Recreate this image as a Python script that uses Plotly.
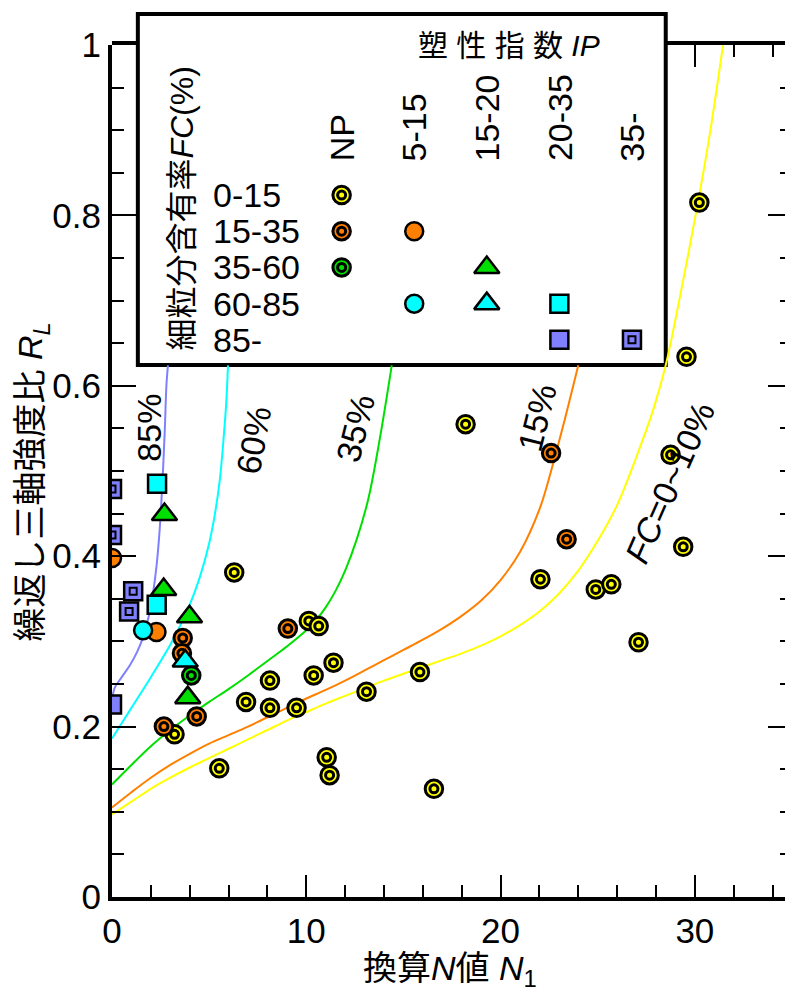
import plotly.graph_objects as go

FONT = "Liberation Sans, Arial, Noto Sans CJK JP, sans-serif"

# ---------------- data ----------------
# FC 0-15 %, NP
fc0_15_np_x = [30.23, 29.57, 18.2, 28.75, 29.4, 22.05, 24.9, 25.7, 27.1, 15.85,
               6.29, 10.13, 10.64, 11.4, 10.38, 8.13, 6.9, 8.13, 9.5, 13.1,
               5.52, 11.05, 11.2, 16.57, 3.22]
fc0_15_np_y = [0.815, 0.634, 0.555, 0.519, 0.411, 0.373, 0.361, 0.367, 0.299, 0.264,
               0.381, 0.324, 0.318, 0.275, 0.26, 0.254, 0.229, 0.222, 0.222, 0.241,
               0.151, 0.164, 0.143, 0.127, 0.191]
# FC 15-35 %
fc15_35_np_x = [22.6, 23.4, 9.05, 3.64, 3.6, 4.36, 2.67]
fc15_35_np_y = [0.521, 0.42, 0.315, 0.304, 0.286, 0.212, 0.2]
fc15_35_ip5_x = [0.0, 2.29]
fc15_35_ip5_y = [0.398, 0.311]
# FC 35-60 %
fc35_60_np_x = [4.08]
fc35_60_np_y = [0.26]
fc35_60_ip15_x = [2.7, 2.66, 3.99, 3.9]
fc35_60_ip15_y = [0.449, 0.361, 0.329, 0.234]
# FC 60-85 %
fc60_85_ip5_x = [1.6]
fc60_85_ip5_y = [0.313]
fc60_85_ip15_x = [3.77]
fc60_85_ip15_y = [0.277]
fc60_85_ip20_x = [2.32, 2.3]
fc60_85_ip20_y = [0.485, 0.343]
# FC 85- %
fc85_ip20_x = [0.0]
fc85_ip20_y = [0.226]
fc85_ip35_x = [0.0, 0.0, 1.09, 0.88]
fc85_ip35_y = [0.479, 0.425, 0.359, 0.335]

# Reference curves (they run under the legend box)
c85_x = [0, 0.15, 0.5, 0.92, 1.3, 1.6, 1.9, 2.1, 2.29, 2.45, 2.6, 2.72, 2.8, 2.88]
c85_y = [0.232, 0.246, 0.258, 0.272, 0.288, 0.305, 0.33, 0.355, 0.388, 0.43, 0.489, 0.55, 0.6, 0.624]
c60_x = [0, 1, 2, 3, 3.5, 4, 4.5, 5, 5.3, 5.55, 5.75, 5.88, 5.97]
c60_y = [0.186, 0.222, 0.258, 0.296, 0.318, 0.343, 0.374, 0.415, 0.45, 0.49, 0.54, 0.58, 0.624]
c35_x = [0, 1, 2, 3, 4, 5, 6, 7, 8, 9, 10, 10.5, 11, 11.5, 12, 12.6, 13.2, 13.8, 14.4]
c35_y = [0.132, 0.155, 0.177, 0.196, 0.213, 0.229, 0.244, 0.26, 0.277, 0.294, 0.313, 0.325, 0.34,
         0.359, 0.383, 0.42, 0.468, 0.54, 0.624]
c15_x = [0, 1, 2, 3, 4, 5, 6, 7, 8, 9, 10, 11, 12, 13, 14, 15, 16, 17, 18, 19, 20, 21, 22,
         22.6, 23.3, 24.0]
c15_y = [0.105, 0.123, 0.14, 0.155, 0.168, 0.18, 0.19, 0.2, 0.211, 0.222, 0.233, 0.243, 0.254,
         0.266, 0.278, 0.29, 0.302, 0.315, 0.33, 0.348, 0.372, 0.405, 0.455, 0.5, 0.56, 0.624]
c10_x = [0, 1, 2, 3, 4, 5, 6, 7, 8, 9, 10, 11, 12, 13, 14, 15, 16, 17, 18, 19, 20, 21, 22, 23,
         24, 25, 26, 27, 27.9, 28.5, 29.4, 30.2, 30.8, 31.45]
c10_y = [0.097, 0.112, 0.127, 0.14, 0.152, 0.163, 0.174, 0.185, 0.196, 0.207, 0.217, 0.227,
         0.236, 0.245, 0.254, 0.262, 0.27, 0.278, 0.286, 0.295, 0.306, 0.319, 0.335, 0.356,
         0.383, 0.418, 0.46, 0.517, 0.575, 0.624, 0.724, 0.82, 0.9, 1.0]

curve_labels = ["85%", "60%", "35%", "15%", "<i>FC</i>=0~10%"]
ip_labels = ["NP", "5-15", "15-20", "20-35", "35-"]
fc_labels = ["0-15", "15-35", "35-60", "60-85", "85-"]
x_ticks = [0, 10, 20, 30]

# ---------------- styling ----------------
YEL, ORG, GRN, CYN, BLU = "#FFFF00", "#FF8000", "#00E000", "#00FFFF", "#8080FF"

# (x, y, colour, kind, legend column, legend row)
series = [
    (fc0_15_np_x, fc0_15_np_y, YEL, "dcircle", 0, 0),
    (fc15_35_np_x, fc15_35_np_y, ORG, "dcircle", 0, 1),
    (fc15_35_ip5_x, fc15_35_ip5_y, ORG, "circle", 1, 1),
    (fc35_60_np_x, fc35_60_np_y, GRN, "dcircle", 0, 2),
    (fc35_60_ip15_x, fc35_60_ip15_y, GRN, "triangle", 2, 2),
    (fc85_ip20_x, fc85_ip20_y, BLU, "square", 3, 4),
    (fc85_ip35_x, fc85_ip35_y, BLU, "dsquare", 4, 4),
    (fc60_85_ip5_x, fc60_85_ip5_y, CYN, "circle", 1, 3),
    (fc60_85_ip15_x, fc60_85_ip15_y, CYN, "triangle", 2, 3),
    (fc60_85_ip20_x, fc60_85_ip20_y, CYN, "square", 3, 3),
]

curves = [
    (c85_x, c85_y, BLU),
    (c60_x, c60_y, CYN),
    (c35_x, c35_y, GRN),
    (c15_x, c15_y, ORG),
    (c10_x, c10_y, YEL),
]

fig = go.Figure()

for cx, cy, col in curves:
    fig.add_trace(go.Scatter(x=cx, y=cy, mode="lines",
                             line=dict(color=col, width=2, shape="spline", smoothing=1.0),
                             showlegend=False, hoverinfo="skip"))


def marker_trace(xs, ys, col, kind, xa, ya):
    if kind in ("dcircle", "dsquare"):
        xx, yy = [], []
        for a, b in zip(xs, ys):
            xx += [a, a]
            yy += [b, b]
        if kind == "dcircle":
            sym, sizes, widths = "circle", [17.5, 8], [3, 3]
        else:
            sym, sizes, widths = "square", [18, 7], [2.5, 2]
        return go.Scatter(x=xx, y=yy, mode="markers", xaxis=xa, yaxis=ya,
                          marker=dict(symbol=sym, color=col, size=sizes * len(xs), opacity=1,
                                      line=dict(color="black", width=widths * len(xs))),
                          showlegend=False, hoverinfo="skip")
    sym, size = {"circle": ("circle", 18), "triangle": ("triangle-up", 22),
                 "square": ("square", 18)}[kind]
    return go.Scatter(x=xs, y=ys, mode="markers", xaxis=xa, yaxis=ya,
                      marker=dict(symbol=sym, color=col, size=size, opacity=1,
                                  line=dict(color="black", width=2.5)),
                      showlegend=False, hoverinfo="skip")


for xs, ys, col, kind, lc, lr in series:
    fig.add_trace(marker_trace(xs, ys, col, kind, "x", "y"))

# legend grid markers (drawn on an overlaying pair of hidden axes)
for xs, ys, col, kind, lc, lr in series:
    fig.add_trace(marker_trace([lc], [lr], col, kind, "x3", "y3"))

# dummy trace for the top axis
fig.add_trace(go.Scatter(x=[None], y=[None], xaxis="x2", yaxis="y", showlegend=False,
                         hoverinfo="skip"))

# ---------------- layout ----------------
L, T, PW, PH = 112, 45, 684, 852
W, H = 804, 996

def px(xp):
    return (xp - L) / PW

def py(yp):
    return (T + PH - yp) / PH

ann = []
# column headers
for i, t in enumerate(ip_labels):
    ann.append(dict(x=i, y=-0.88, xref="x3", yref="y3", text=t, textangle=-90,
                    xanchor="center", yanchor="bottom", showarrow=False,
                    font=dict(size=34, family=FONT, color="black")))
# row labels
for j, t in enumerate(fc_labels):
    ann.append(dict(x=-1.795, y=j, xref="x3", yref="y3", text=t,
                    xanchor="left", yanchor="middle", showarrow=False,
                    font=dict(size=34, family=FONT, color="black")))
ann.append(dict(x=px(511), y=py(46), xref="paper", yref="paper",
                text="塑 性 指 数 <i>IP</i>", showarrow=False, xanchor="center", yanchor="middle",
                font=dict(size=30, family=FONT, color="black")))
ann.append(dict(x=px(182), y=py(209), xref="paper", yref="paper",
                text="細粒分含有率<i>FC</i>(%)", textangle=-90, showarrow=False,
                xanchor="center", yanchor="middle",
                font=dict(size=32, family=FONT, color="black")))
# curve labels
lab_pos = [(1.89, 0.5505, -90), (7.31, 0.536, -80), (12.53, 0.5505, -76),
           (21.9, 0.563, -76), (28.7, 0.486, -66)]
for t, (lx, ly, ang) in zip(curve_labels, lab_pos):
    ann.append(dict(x=lx, y=ly, xref="x", yref="y", text=t, textangle=ang, showarrow=False,
                    xanchor="center", yanchor="middle",
                    font=dict(size=34, family=FONT, color="black")))
# axis titles
ann.append(dict(x=px(32), y=py(482), xref="paper", yref="paper",
                text="繰返し三軸強度比 <i>R<sub>L</sub></i>", textangle=-90, showarrow=False,
                xanchor="center", yanchor="middle",
                font=dict(size=34, family=FONT, color="black")))
ann.append(dict(x=px(452), y=py(970), xref="paper", yref="paper",
                text="換算<i>N</i>値 <i>N</i><sub>1</sub>", showarrow=False,
                xanchor="center", yanchor="middle",
                font=dict(size=34, family=FONT, color="black")))

shapes = [
    # top frame line (partly hidden by the legend box)
    dict(type="line", xref="paper", yref="paper", x0=0, x1=1, y0=1 + 2 / PH, y1=1 + 2 / PH,
         line=dict(color="black", width=4), layer="below"),
    # legend box
    dict(type="rect", xref="paper", yref="paper", x0=px(138), x1=px(669), y0=py(365), y1=py(14),
         fillcolor="white", line=dict(color="black", width=4), layer="below"),
]

tickfont = dict(size=35, family=FONT, color="black")

fig.update_layout(
    width=W, height=H,
    margin=dict(l=L, r=W - L - PW, t=T, b=H - T - PH),
    paper_bgcolor="white", plot_bgcolor="white",
    showlegend=False,
    font=dict(family=FONT, color="black"),
    xaxis=dict(range=[0, 35], tickmode="array", tickvals=x_ticks, ticks="inside", ticklen=22,
               tickwidth=2, tickcolor="black", showline=True, linewidth=4, linecolor="black",
               mirror=False, showgrid=False, zeroline=False, tickfont=tickfont,
               minor=dict(dtick=2, ticks="inside", ticklen=12, tickwidth=2, tickcolor="black",
                          showgrid=False)),
    xaxis2=dict(range=[0, 35], overlaying="x", side="top", anchor="y", tickmode="array",
                tickvals=[30], ticks="inside", ticklen=22, tickwidth=2, tickcolor="black",
                showticklabels=False, showline=False, showgrid=False, zeroline=False,
                minor=dict(tickmode="array", tickvals=[32, 34], ticks="inside", ticklen=12,
                           tickwidth=2, tickcolor="black", showgrid=False)),
    yaxis=dict(range=[0, 1], dtick=0.2, ticks="inside", ticklen=24, tickwidth=2,
               tickcolor="black", showline=True, linewidth=4, linecolor="black",
               mirror="ticks", showgrid=False, zeroline=False, tickfont=tickfont,
               minor=dict(dtick=0.05, ticks="inside", ticklen=12, tickwidth=2,
                          tickcolor="black", showgrid=False)),
    xaxis3=dict(range=[-3.164, 6.205], overlaying="x", anchor="y3", visible=False),
    yaxis3=dict(range=[19.39, -4.144], overlaying="y", anchor="x3", visible=False),
    annotations=ann,
    shapes=shapes,
)

fig.write_html("out.html",
               post_script="document.documentElement.style.overflow='hidden';"
                           "document.body.style.overflow='hidden';")
